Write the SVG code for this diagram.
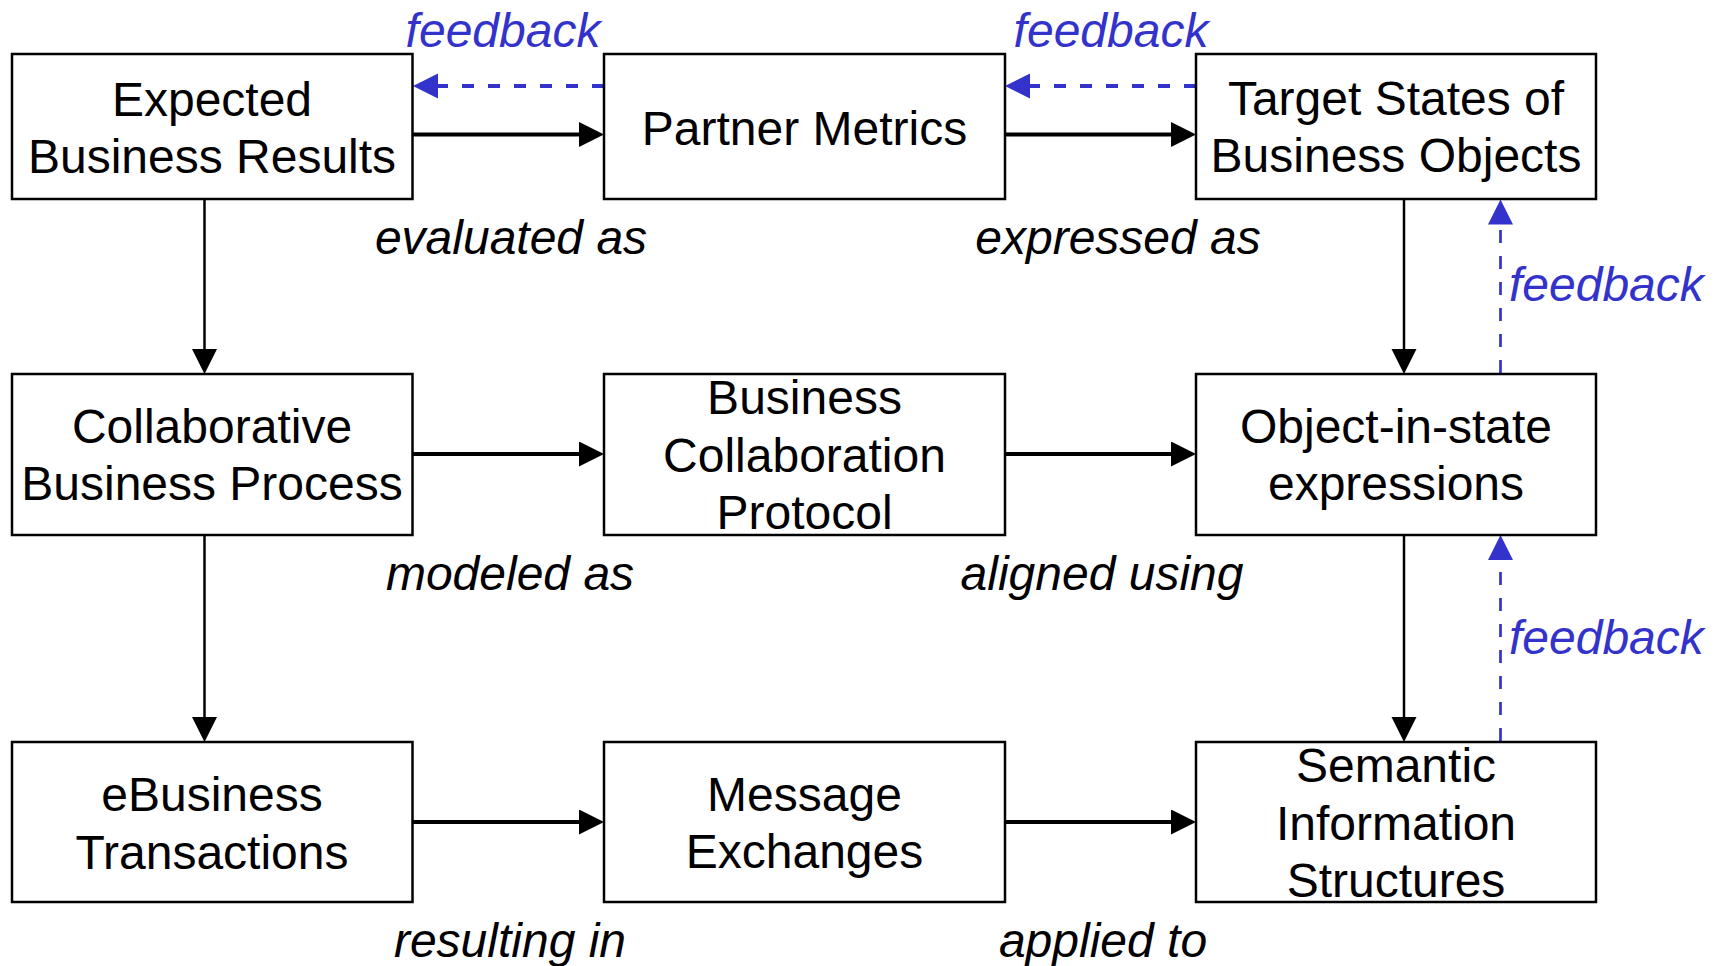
<svg xmlns="http://www.w3.org/2000/svg" width="1721" height="966" viewBox="0 0 1721 966">
<defs>
<style>
.box{fill:#fff;stroke:#000;stroke-width:2.5}
.t{font-family:"Liberation Sans",Arial,sans-serif;font-size:48px;fill:#000;text-anchor:middle}
.lbl{font-family:"Liberation Sans",Arial,sans-serif;font-size:48px;font-style:italic;fill:#000;text-anchor:middle}
.fb{font-family:"Liberation Sans",Arial,sans-serif;font-size:48px;font-style:italic;fill:#3333CC}
.h{stroke:#000;stroke-width:4;fill:none;marker-end:url(#ab)}
.v{stroke:#000;stroke-width:2.5;fill:none;marker-end:url(#ab)}
.dh{stroke:#3333CC;stroke-width:4;fill:none;stroke-dasharray:12 14;marker-end:url(#au)}
.dv{stroke:#3333CC;stroke-width:2.7;fill:none;stroke-dasharray:13 13;marker-end:url(#au)}
</style>
<marker id="ab" markerUnits="userSpaceOnUse" markerWidth="26" markerHeight="26" refX="5" refY="12.5" orient="auto">
<path d="M0,0 L25,12.5 L0,25 z" fill="#000"/>
</marker>
<marker id="au" markerUnits="userSpaceOnUse" markerWidth="26" markerHeight="26" refX="5" refY="12.5" orient="auto">
<path d="M0,0 L25,12.5 L0,25 z" fill="#3333CC"/>
</marker>
</defs>
<rect width="1721" height="966" fill="#fff"/>

<g id="connectors">
<line class="h" x1="412.5" y1="134.5" x2="584" y2="134.5"/>
<line class="h" x1="1005" y1="134.5" x2="1176" y2="134.5"/>
<line class="h" x1="412.5" y1="454" x2="584" y2="454"/>
<line class="h" x1="1005" y1="454" x2="1176" y2="454"/>
<line class="h" x1="412.5" y1="822" x2="584" y2="822"/>
<line class="h" x1="1005" y1="822" x2="1176" y2="822"/>
<line class="v" x1="204.5" y1="199" x2="204.5" y2="354"/>
<line class="v" x1="204.5" y1="535" x2="204.5" y2="722"/>
<line class="v" x1="1404" y1="199" x2="1404" y2="354"/>
<line class="v" x1="1404" y1="535" x2="1404" y2="722"/>
<line class="dh" x1="604" y1="86" x2="433" y2="86"/>
<line class="dh" x1="1196" y1="86" x2="1025" y2="86"/>
<line class="dv" x1="1500.5" y1="373" x2="1500.5" y2="219.5"/>
<line class="dv" x1="1500.5" y1="741" x2="1500.5" y2="555"/>
</g>

<g id="labels">
<text class="lbl" x="511" y="254">evaluated as</text>
<text class="lbl" x="1118" y="254">expressed as</text>
<text class="lbl" x="510" y="590">modeled as</text>
<text class="lbl" x="1102" y="590">aligned using</text>
<text class="lbl" x="510" y="957">resulting in</text>
<text class="lbl" x="1103" y="957">applied to</text>
<text class="fb" x="503" y="47" text-anchor="middle">feedback</text>
<text class="fb" x="1111" y="47" text-anchor="middle">feedback</text>
<text class="fb" x="1509" y="301">feedback</text>
<text class="fb" x="1509" y="654">feedback</text>
</g>

<g id="n-expected">
<rect class="box" x="12" y="54" width="400.5" height="145"/>
<text class="t" x="212" y="116">Expected</text>
<text class="t" x="212" y="173">Business Results</text>
</g>
<g id="n-partner">
<rect class="box" x="604" y="54" width="401" height="145"/>
<text class="t" x="804.5" y="145">Partner Metrics</text>
</g>
<g id="n-target">
<rect class="box" x="1196" y="54" width="400" height="145"/>
<text class="t" x="1396" y="115">Target States of</text>
<text class="t" x="1396" y="172">Business Objects</text>
</g>
<g id="n-cbp">
<rect class="box" x="12" y="374" width="400.5" height="161"/>
<text class="t" x="212" y="443">Collaborative</text>
<text class="t" x="212" y="500">Business Process</text>
</g>
<g id="n-bcp">
<rect class="box" x="604" y="374" width="401" height="161"/>
<text class="t" x="804.5" y="414">Business</text>
<text class="t" x="804.5" y="472">Collaboration</text>
<text class="t" x="804.5" y="529">Protocol</text>
</g>
<g id="n-ois">
<rect class="box" x="1196" y="374" width="400" height="161"/>
<text class="t" x="1396" y="443">Object-in-state</text>
<text class="t" x="1396" y="500">expressions</text>
</g>
<g id="n-ebt">
<rect class="box" x="12" y="742" width="400.5" height="160"/>
<text class="t" x="212" y="811">eBusiness</text>
<text class="t" x="212" y="869">Transactions</text>
</g>
<g id="n-msg">
<rect class="box" x="604" y="742" width="401" height="160"/>
<text class="t" x="804.5" y="811">Message</text>
<text class="t" x="804.5" y="868">Exchanges</text>
</g>
<g id="n-sis">
<rect class="box" x="1196" y="742" width="400" height="160"/>
<text class="t" x="1396" y="782">Semantic</text>
<text class="t" x="1396" y="840">Information</text>
<text class="t" x="1396" y="897">Structures</text>
</g>
</svg>
